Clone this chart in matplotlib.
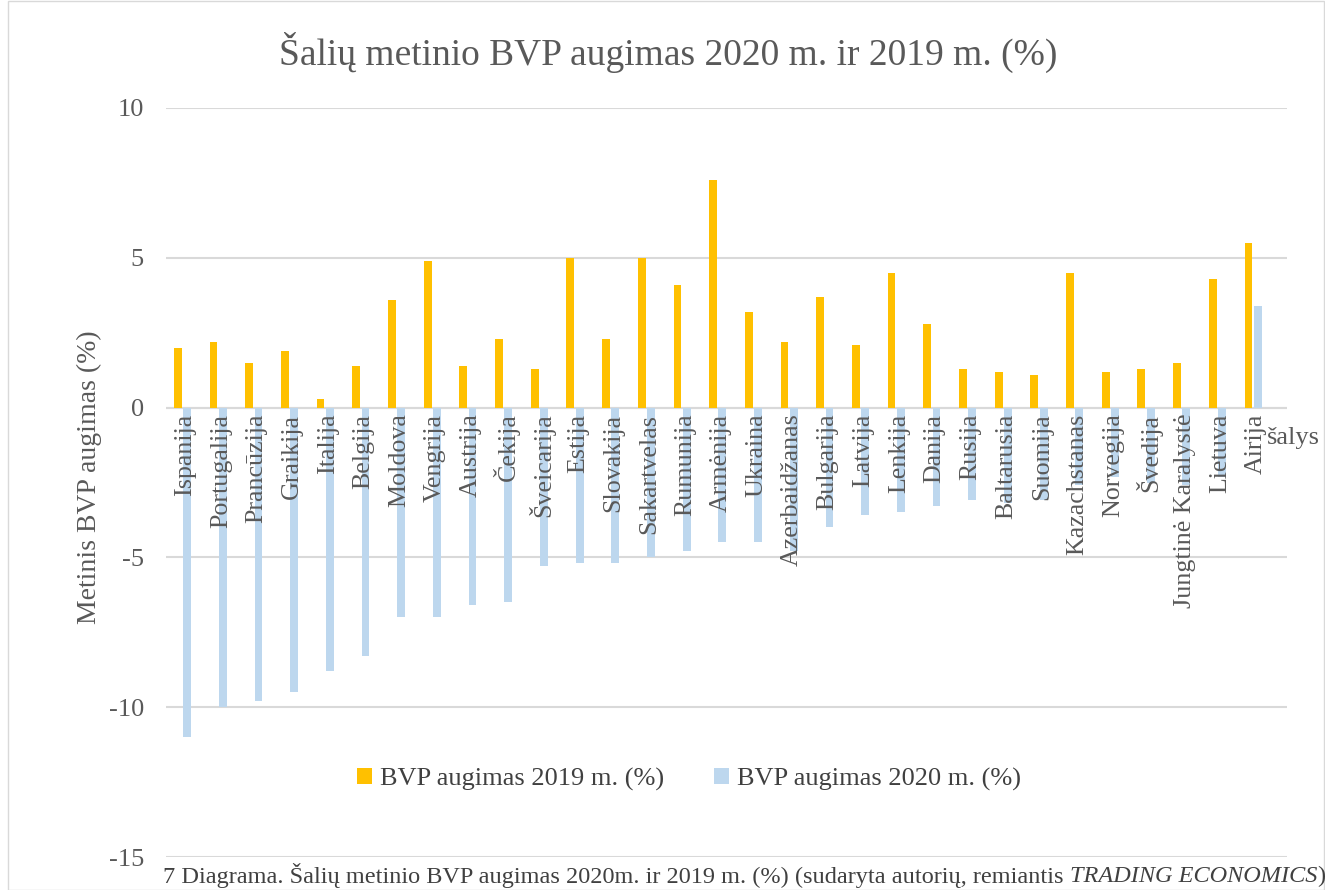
import matplotlib
matplotlib.use("Agg")
import matplotlib.pyplot as plt
from matplotlib.patches import Rectangle
import numpy as np

countries = ["Ispanija", "Portugalija", "Prancūzija", "Graikija", "Italija", "Belgija",
             "Moldova", "Vengrija", "Austrija", "Čekija", "Šveicarija", "Estija",
             "Slovakija", "Sakartvelas", "Rumunija", "Armėnija", "Ukraina", "Azerbaidžanas",
             "Bulgarija", "Latvija", "Lenkija", "Danija", "Rusija", "Baltarusia", "Suomija",
             "Kazachstanas", "Norvegija", "Švedija", "Jungtinė Karalystė", "Lietuva", "Airija"]
gdp_2019 = [2.0, 2.2, 1.5, 1.9, 0.3, 1.4, 3.6, 4.9, 1.4, 2.3, 1.3, 5.0,
            2.3, 5.0, 4.1, 7.6, 3.2, 2.2, 3.7, 2.1, 4.5, 2.8, 1.3, 1.2, 1.1,
            4.5, 1.2, 1.3, 1.5, 4.3, 5.5]
gdp_2020 = [-11.0, -10.0, -9.8, -9.5, -8.8, -8.3, -7.0, -7.0, -6.6, -6.5, -5.3, -5.2,
            -5.2, -5.0, -4.8, -4.5, -4.5, -4.8, -4.0, -3.6, -3.5, -3.3, -3.1, -3.2, -3.1,
            -2.6, -2.3, -2.5, -2.6, -2.3, 3.4]
series_labels = ["BVP augimas 2019 m. (%)", "BVP augimas 2020 m. (%)"]
yticks = [-15, -10, -5, 0, 5, 10]

plt.rcParams['font.family'] = ['Liberation Serif', 'DejaVu Serif']
GRAY = '#595959'
ORANGE = '#FFC000'
BLUE = '#BDD7EE'

W, H = 1325, 890
fig = plt.figure(figsize=(W / 100, H / 100), dpi=100)
ax = fig.add_axes([166 / W, 1 - 857 / H, (1287 - 166) / W, (857 - 108) / H])

n = len(countries)
x = np.arange(n)
bw = 0.22
ax.bar(x - bw / 2 - 0.02, gdp_2019, width=bw, color=ORANGE, label=series_labels[0], zorder=2)
ax.bar(x + bw / 2 + 0.02, gdp_2020, width=bw, color=BLUE, label=series_labels[1], zorder=2)

ax.set_ylim(-15, 10)
ax.set_xlim(-0.46, n - 1 + 0.95)
ax.set_yticks(yticks)
ax.set_yticklabels([str(t) for t in yticks], fontsize=19, color=GRAY)
ax.tick_params(axis='y', length=0, pad=16)
ax.set_xticks([])
ax.grid(axis='y', color='#D9D9D9', linewidth=1.5, zorder=0)
ax.axhline(0, color='#D9D9D9', linewidth=1.5, zorder=1)
for s in ax.spines.values():
    s.set_visible(False)

for i, c in enumerate(countries):
    ax.text(i + 0.08, -0.2, c, rotation=90, ha='center', va='top', fontsize=18.7,
            color=GRAY, zorder=3)

ax.text(n - 1 + 0.4, -0.65, "šalys", ha='left', va='top', fontsize=19, color=GRAY,
        clip_on=False)

ax.set_ylabel("Metinis BVP augimas (%)", fontsize=20, color=GRAY)
ax.yaxis.set_label_coords((102 - 166) / (1287 - 166), (857 - 477) / (857 - 108))

fig.text(668 / W, 1 - 52 / H, "Šalių metinio BVP augimas 2020 m. ir 2019 m. (%)",
         ha='center', va='center', fontsize=27, color=GRAY)

leg = ax.legend(loc='center', bbox_to_anchor=((689 - 166) / (1287 - 166), (857 - 779) / (857 - 108)),
                ncol=2, frameon=False, fontsize=19, handlelength=0.55, handleheight=0.55,
                columnspacing=1.9, handletextpad=0.3)
for t in leg.get_texts():
    t.set_color('#404040')

# caption with italic part
renderer = fig.canvas.get_renderer()
cy = 1 - 876 / H
fs = 17.5
cap1 = fig.text(163 / W, cy,
                "7 Diagrama. Šalių metinio BVP augimas 2020m. ir 2019 m. (%) (sudaryta autorių, remiantis ",
                ha='left', va='center', fontsize=fs, color='#404040')
bb = cap1.get_window_extent(renderer)
cap2 = fig.text(bb.x1 / W, cy, "TRADING ECONOMICS", ha='left', va='center',
                fontsize=fs, color='#404040', style='italic')
bb2 = cap2.get_window_extent(renderer)
fig.text(bb2.x1 / W, cy, ")", ha='left', va='center', fontsize=fs, color='#404040')

# figure border
fig.patches.append(Rectangle((8 / W, 0), 1 - 9 / W, 1 - 1 / H, transform=fig.transFigure,
                             fill=False, edgecolor='#D9D9D9', linewidth=1))

fig.savefig("out.png", dpi=100)
